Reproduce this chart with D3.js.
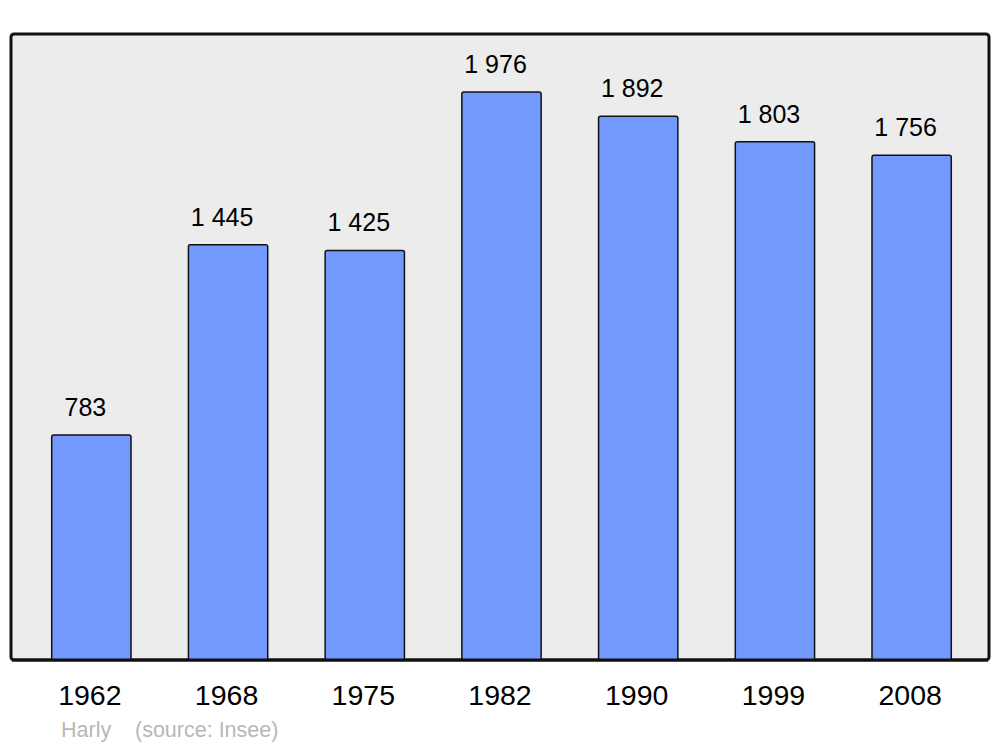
<!DOCTYPE html>
<html>
<head>
<meta charset="utf-8">
<script src="https://cdn.jsdelivr.net/npm/d3@7"></script>
<style>
body { margin: 0; background: #fff; }
text { font-family: "Liberation Sans", Arial, sans-serif; }
</style>
</head>
<body>
<div id="myDiv"></div>
<script>
var years = ["1962", "1968", "1975", "1982", "1990", "1999", "2008"]
var population = [783, 1445, 1425, 1976, 1892, 1803, 1756]
var townName = "Harly"
var sourceText = "(source: Insee)"

var width = 1000
var height = 747

let svgContainer = d3.select("#myDiv").append("svg")
    .attr("width", width)
    .attr("height", height);

// plot area frame
svgContainer.append("rect")
    .attr("x", 11)
    .attr("y", 34)
    .attr("width", 978)
    .attr("height", 626)
    .attr("rx", 3)
    .attr("fill", "#ececec")
    .attr("stroke", "#111")
    .attr("stroke-width", 3);

let x = d3.scaleBand()
    .domain(years)
    .range([23, 980])
    .paddingInner(0.42)
    .paddingOuter(0.21);

let y = d3.scaleLinear()
    .domain([0, 2178])
    .range([660, 34]);

function fmt(v){
    return d3.format(",")(v).replace(/,/g, " ");
}

let data = years.map(function(yr, i){ return {year: yr, value: population[i]}; });

svgContainer.selectAll(".bar")
    .data(data)
    .enter()
    .append("rect")
    .attr("class", "bar")
    .attr("x", function(d){ return x(d.year); })
    .attr("y", function(d){ return y(d.value); })
    .attr("width", x.bandwidth())
    .attr("height", function(d){ return y(0) - y(d.value); })
    .attr("rx", 2)
    .attr("fill", "#7399ff")
    .attr("stroke", "#111")
    .attr("stroke-width", 1.5);

// redraw bottom frame line over bars
svgContainer.append("line")
    .attr("x1", 12)
    .attr("x2", 988)
    .attr("y1", 660)
    .attr("y2", 660)
    .attr("stroke", "#111")
    .attr("stroke-width", 3);

svgContainer.selectAll(".val")
    .data(data)
    .enter()
    .append("text")
    .attr("class", "val")
    .attr("x", function(d){ return x(d.year) + x.bandwidth() / 2 - 6; })
    .attr("y", function(d){ return y(d.value) - 19; })
    .attr("text-anchor", "middle")
    .attr("font-size", 25)
    .attr("fill", "#000")
    .text(function(d){ return fmt(d.value); });

svgContainer.selectAll(".yr")
    .data(data)
    .enter()
    .append("text")
    .attr("class", "yr")
    .attr("x", function(d){ return x(d.year) + x.bandwidth() / 2 - 1.5; })
    .attr("y", 705)
    .attr("text-anchor", "middle")
    .attr("font-size", 28.5)
    .attr("fill", "#000")
    .text(function(d){ return d.year; });

svgContainer.append("text")
    .attr("x", 61)
    .attr("y", 737)
    .attr("font-size", 21.5)
    .attr("fill", "#b8b8b8")
    .text(townName);

svgContainer.append("text")
    .attr("x", 135)
    .attr("y", 737)
    .attr("font-size", 21.5)
    .attr("fill", "#b8b8b8")
    .text(sourceText);
</script>
</body>
</html>
